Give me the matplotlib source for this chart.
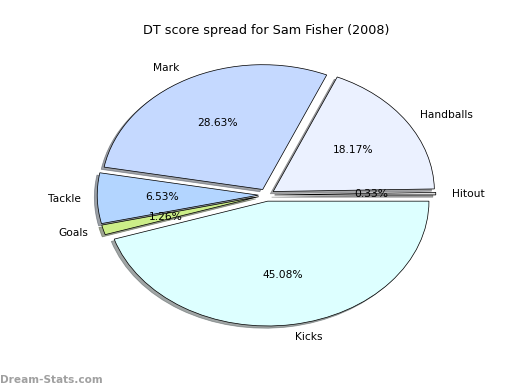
import matplotlib
matplotlib.use("Agg")
import matplotlib.pyplot as plt

labels = ["Hitout", "Handballs", "Mark", "Tackle", "Goals", "Kicks"]
values = [0.33, 18.17, 28.63, 6.53, 1.26, 45.08]
colors = ["#e0e0e0", "#ebf1ff", "#c5d9ff", "#b3d5ff", "#ccee88", "#ddffff"]
explode = [0.05] * len(values)
title = "DT score spread for Sam Fisher (2008)"
watermark = "Dream-Stats.com"

fig = plt.figure(figsize=(8, 6), dpi=65)
ax = fig.add_axes([0.125, 0.1, 0.775, 0.8])
wedges, texts, autotexts = ax.pie(
    values, labels=labels, colors=colors, explode=explode,
    autopct="%1.2f%%", shadow=True, startangle=0,
    wedgeprops=dict(edgecolor="black", linewidth=0.8),
    textprops=dict(fontsize=11.8),
)
ax.set_aspect("auto")
ax.set_xlim(-1.25, 1.25)
ax.set_ylim(-1.25, 1.25)
ax.axis("off")
ax.set_title(title, fontsize=14.2)
fig.text(0.0, 0.025, watermark, fontsize=11.6, fontweight="bold",
         color="#a0a0a0", ha="left", va="center")
fig.savefig("out.png", dpi=65)
